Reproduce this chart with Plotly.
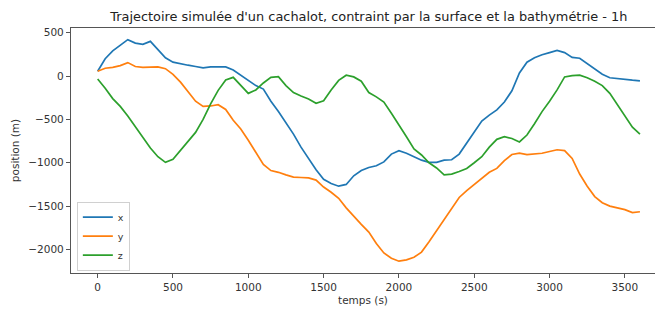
import plotly.graph_objects as go

temps = list(range(0, 3601, 50))

x_pos = [55, 200, 290, 360, 420, 380, 365, 400, 300, 210,
         160, 140, 125, 110, 95, 105, 105, 105, 70, 10,
         -60, -110, -150, -290, -410, -540, -670, -820, -950, -1080,
         -1190, -1240, -1270, -1250, -1150, -1090, -1055, -1035, -990, -900,
         -860, -890, -930, -970, -995, -995, -970, -965, -900, -770,
         -640, -520, -450, -390, -300, -170, 35, 160, 210, 245,
         270, 295, 270, 215, 205, 140, 80, 20, -20, -32,
         -40, -48, -55]

y_pos = [55, 90, 100, 120, 155, 110, 100, 100, 105, 85,
         20, -70, -175, -290, -350, -345, -330, -385, -510, -610,
         -740, -880, -1020, -1090, -1110, -1140, -1165, -1170, -1175, -1200,
         -1280, -1340, -1410, -1520, -1620, -1710, -1800, -1930, -2040, -2100,
         -2135, -2120, -2090, -2030, -1910, -1780, -1650, -1520, -1400, -1320,
         -1250, -1190, -1110, -1065, -975, -905, -890, -905, -900, -890,
         -870, -850, -860, -950, -1130, -1270, -1390, -1460, -1500, -1520,
         -1540, -1575, -1565]

z_pos = [-35, -140, -260, -350, -460, -580, -710, -830, -930, -995,
         -960, -855, -750, -650, -500, -320, -165, -45, -15, -110,
         -200, -160, -80, -15, -8, -110, -190, -230, -265, -315,
         -285, -160, -50, 10, -10, -60, -190, -240, -300, -430,
         -560, -700, -840, -910, -1000, -1060, -1140, -1130, -1100, -1066,
         -1000, -930, -820, -730, -700, -720, -760, -680, -550, -410,
         -290, -160, -10, 5, 10, -20, -60, -110, -200, -330,
         -460, -590, -670]

series = [("x", x_pos, "#1f77b4"), ("y", y_pos, "#ff7f0e"), ("z", z_pos, "#2ca02c")]

fig = go.Figure()
for name, vals, col in series:
    fig.add_trace(go.Scatter(x=temps, y=vals, mode="lines", name=name,
                             line=dict(color=col, width=1.7)))

font = "DejaVu Sans, sans-serif"
fig.update_layout(
    width=656, height=311,
    margin=dict(l=71, r=1, t=28, b=38),
    paper_bgcolor="white", plot_bgcolor="white",
    font=dict(family=font, size=10.5, color="#333"),
    title=dict(text="Trajectoire simulée d'un cachalot, contraint par la surface et la bathymétrie - 1h",
               x=0.51, xref="paper", xanchor="center", y=0.947, yref="container",
               yanchor="middle", font=dict(size=12.9, color="#222")),
    showlegend=True,
    legend=dict(x=0.01, y=0.01, xanchor="left", yanchor="bottom",
                bgcolor="rgba(255,255,255,0.8)", bordercolor="#d0d0d0", borderwidth=1,
                font=dict(size=9.5, color="#333"), tracegroupgap=0,
                itemwidth=30),
)
fig.update_xaxes(range=[-177, 3700], tickvals=[0, 500, 1000, 1500, 2000, 2500, 3000, 3500],
                 showgrid=False, zeroline=False, showline=True, linecolor="#555", linewidth=1.2,
                 mirror=True, ticks="outside", ticklen=4, tickcolor="#555",
                 title=dict(text="temps (s)", standoff=4, font=dict(size=10.5)))
fig.update_yaxes(range=[-2271, 554], tickvals=[-2000, -1500, -1000, -500, 0, 500],
                 showgrid=False, zeroline=False, showline=True, linecolor="#555", linewidth=1.2,
                 mirror=False, ticks="outside", ticklen=4, tickcolor="#555",
                 title=dict(text="position (m)", standoff=6, font=dict(size=10.5)))

fig.write_html("out.html", config={"displayModeBar": False},
               post_script="document.body.style.margin='0';document.body.style.overflow='hidden';")
